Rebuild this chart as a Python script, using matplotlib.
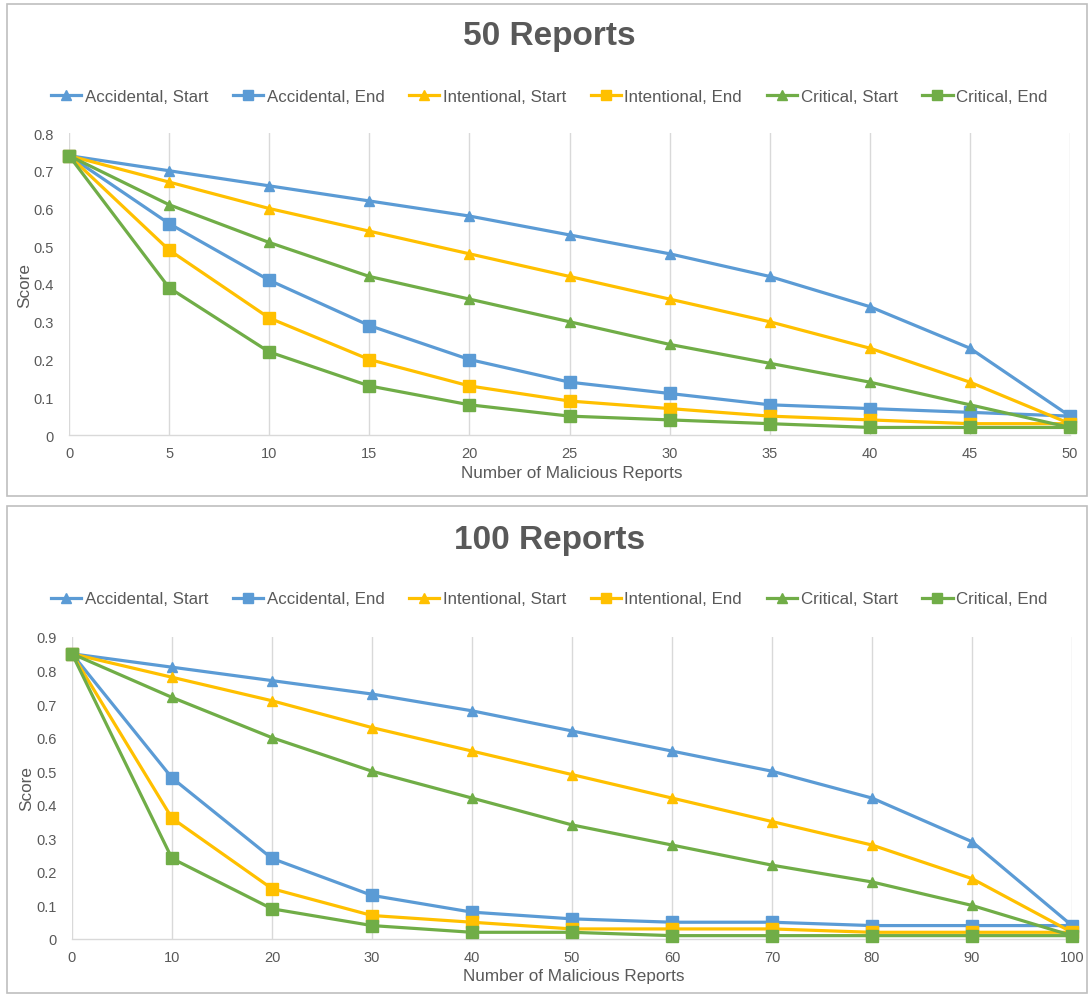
import matplotlib
matplotlib.use("Agg")
import matplotlib.pyplot as plt
from matplotlib.patches import Rectangle

plt.rcParams['font.family'] = ['Liberation Sans', 'DejaVu Sans']

# ---- data -------------------------------------------------------------
x50 = [0, 5, 10, 15, 20, 25, 30, 35, 40, 45, 50]
acc_start_50 = [0.74, 0.70, 0.66, 0.62, 0.58, 0.53, 0.48, 0.42, 0.34, 0.23, 0.05]
acc_end_50 = [0.74, 0.56, 0.41, 0.29, 0.20, 0.14, 0.11, 0.08, 0.07, 0.06, 0.05]
int_start_50 = [0.74, 0.67, 0.60, 0.54, 0.48, 0.42, 0.36, 0.30, 0.23, 0.14, 0.03]
int_end_50 = [0.74, 0.49, 0.31, 0.20, 0.13, 0.09, 0.07, 0.05, 0.04, 0.03, 0.03]
crit_start_50 = [0.74, 0.61, 0.51, 0.42, 0.36, 0.30, 0.24, 0.19, 0.14, 0.08, 0.02]
crit_end_50 = [0.74, 0.39, 0.22, 0.13, 0.08, 0.05, 0.04, 0.03, 0.02, 0.02, 0.02]

x100 = [0, 10, 20, 30, 40, 50, 60, 70, 80, 90, 100]
acc_start_100 = [0.85, 0.81, 0.77, 0.73, 0.68, 0.62, 0.56, 0.50, 0.42, 0.29, 0.04]
acc_end_100 = [0.85, 0.48, 0.24, 0.13, 0.08, 0.06, 0.05, 0.05, 0.04, 0.04, 0.04]
int_start_100 = [0.85, 0.78, 0.71, 0.63, 0.56, 0.49, 0.42, 0.35, 0.28, 0.18, 0.02]
int_end_100 = [0.85, 0.36, 0.15, 0.07, 0.05, 0.03, 0.03, 0.03, 0.02, 0.02, 0.02]
crit_start_100 = [0.85, 0.72, 0.60, 0.50, 0.42, 0.34, 0.28, 0.22, 0.17, 0.10, 0.01]
crit_end_100 = [0.85, 0.24, 0.09, 0.04, 0.02, 0.02, 0.01, 0.01, 0.01, 0.01, 0.01]

series_names = ["Accidental, Start", "Accidental, End", "Intentional, Start",
                "Intentional, End", "Critical, Start", "Critical, End"]
series_colors = ["#5B9BD5", "#5B9BD5", "#FFC000", "#FFC000", "#70AD47", "#70AD47"]
series_markers = ["^", "s", "^", "s", "^", "s"]

W, H = 1088, 995
TEXT = "#595959"
GRID = "#D9D9D9"

fig = plt.figure(figsize=(W / 100, H / 100), dpi=100)


def px_axes(x0, y0, x1, y1):
    return fig.add_axes([x0 / W, 1 - y1 / H, (x1 - x0) / W, (y1 - y0) / H])


def frame(x0, y0, x1, y1):
    fig.patches.append(Rectangle((x0 / W, 1 - y1 / H), (x1 - x0) / W, (y1 - y0) / H,
                                 transform=fig.transFigure, fill=False,
                                 edgecolor="#BFBFBF", linewidth=1.2))


def panel(box, area, title, title_y, legend_y, xlab_y, score_x, xs, ys, ymax, xticks):
    frame(*box)
    ax = px_axes(*area)
    handles = []
    for name, col, mk, y in zip(series_names, series_colors, series_markers, ys):
        h, = ax.plot(xs, y, color=col, marker=mk, markersize=8 if mk == "s" else 7.5,
                     linewidth=2.3, label=name, clip_on=False, zorder=3)
        handles.append(h)
    ax.set_xlim(xs[0], xs[-1])
    ax.set_ylim(0, ymax)
    ax.set_xticks(xticks)
    n = int(round(ymax * 10))
    ax.set_yticks([round(v * 0.1, 1) for v in range(n + 1)])
    ax.set_yticklabels([("0" if v == 0 else f"{v * 0.1:.1f}") for v in range(n + 1)])
    ax.xaxis.grid(True, color=GRID, linewidth=1.0, zorder=0)
    ax.yaxis.grid(False)
    ax.set_axisbelow(True)
    for s in ["top", "right", "left"]:
        ax.spines[s].set_visible(False)
    ax.spines["bottom"].set_color(GRID)
    ax.spines["bottom"].set_linewidth(1.0)
    ax.tick_params(axis="both", length=0, labelsize=10.5, colors=TEXT)
    ax.tick_params(axis="x", pad=8)
    ax.tick_params(axis="y", pad=11)
    fig.text(0.5047, 1 - title_y / H, title, ha="center", va="center",
             fontsize=24, fontweight="bold", color=TEXT)
    fig.text((area[0] + area[2]) / 2 / W + 0.002, 1 - xlab_y / H, "Number of Malicious Reports",
             ha="center", va="center", fontsize=12.3, color=TEXT)
    fig.text(score_x / W, 1 - (area[1] + area[3]) / 2 / H, "Score", ha="center", va="center",
             rotation=90, fontsize=12.3, color=TEXT)
    fig.legend(handles=handles, loc="center", bbox_to_anchor=(0.5047, 1 - legend_y / H),
               ncol=6, frameon=False, fontsize=12.2, handlelength=1.8, handletextpad=0.2,
               columnspacing=1.45, labelcolor=TEXT, markerscale=0.9)
    return ax


panel((7, 5, 1087, 497), (69, 134, 1070, 436), "50 Reports", 37, 97, 474, 25,
      x50, [acc_start_50, acc_end_50, int_start_50, int_end_50, crit_start_50, crit_end_50],
      0.8, x50)
panel((7, 507, 1087, 994), (72, 638, 1072, 940), "100 Reports", 540, 600, 977, 27,
      x100, [acc_start_100, acc_end_100, int_start_100, int_end_100, crit_start_100, crit_end_100],
      0.9, x100)

fig.savefig("out.png", dpi=100)
